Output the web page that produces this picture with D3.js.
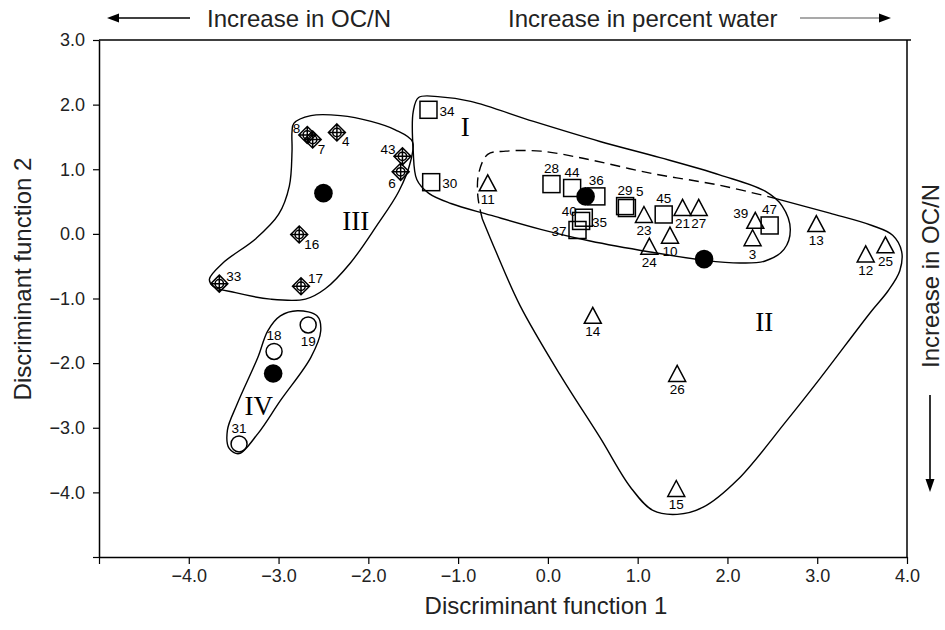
<!DOCTYPE html>
<html>
<head>
<meta charset="utf-8">
<script src="https://cdn.jsdelivr.net/npm/d3@7"></script>
<style>
  body { margin: 0; background: #fff; }
  svg { display: block; font-family: "Liberation Sans", Arial, sans-serif; }
</style>
</head>
<body>
<svg id="chart" width="945" height="630"></svg>
<script>
// site scores on discriminant functions 1 and 2, by group
const squareIds = [34, 30, 28, 44, 36, 29, 5, 45, 47, 35, 40, 37];
const squareX = [-1.33, -1.30, 0.04, 0.27, 0.54, 0.86, 0.88, 1.29, 2.47, 0.37, 0.40, 0.33];
const squareY = [1.92, 0.80, 0.77, 0.71, 0.58, 0.43, 0.40, 0.30, 0.13, 0.20, 0.25, 0.06];

const triangleIds = [11, 23, 21, 27, 10, 24, 3, 39, 13, 12, 25, 14, 26, 15];
const triangleX = [-0.67, 1.07, 1.50, 1.68, 1.36, 1.13, 2.28, 2.31, 2.99, 3.54, 3.76, 0.50, 1.44, 1.43];
const triangleY = [0.79, 0.30, 0.41, 0.41, -0.02, -0.19, -0.06, 0.21, 0.16, -0.31, -0.17, -1.26, -2.16, -3.94];

const diamondIds = [8, 7, 4, 43, 6, 16, 17, 33];
const diamondX = [-2.68, -2.62, -2.35, -1.62, -1.64, -2.77, -2.75, -3.66];
const diamondY = [1.53, 1.46, 1.57, 1.20, 0.96, -0.01, -0.81, -0.77];

const circleIds = [18, 19, 31];
const circleX = [-3.05, -2.67, -3.44];
const circleY = [-1.82, -1.41, -3.25];

// group centroids I..IV
const groupNames = ['I', 'II', 'III', 'IV'];
const centroidX = [0.42, 1.74, -2.50, -3.06];
const centroidY = [0.58, -0.39, 0.63, -2.16];
const groupLabelX = [-0.92, 2.41, -2.14, -3.22];
const groupLabelY = [1.66, -1.35, 0.21, -2.66];

// hand drawn group outlines (data units)
const hullI = [[-1.44, 2.11], [-1.20, 2.12], [-0.86, 2.05], [-0.16, 1.74], [0.58, 1.43], [1.25, 1.18],
  [1.92, 0.91], [2.42, 0.66], [2.61, 0.43], [2.70, 0.07], [2.63, -0.24], [2.42, -0.42], [2.14, -0.45],
  [1.75, -0.41], [1.14, -0.28], [0.47, -0.11], [-0.08, 0.07], [-0.64, 0.29], [-1.08, 0.47],
  [-1.33, 0.63], [-1.46, 0.84], [-1.50, 1.28], [-1.50, 1.89]];
const hullIIsolid = [[2.53, 0.55], [3.14, 0.32], [3.61, 0.13], [3.84, -0.02], [3.94, -0.27], [3.92, -0.57],
  [3.79, -0.88], [3.59, -1.22], [3.03, -2.24], [2.66, -2.89], [2.11, -3.81], [1.73, -4.23], [1.44, -4.34],
  [1.17, -4.28], [0.92, -3.92], [0.58, -3.15], [0.14, -2.19], [-0.31, -1.11], [-0.58, -0.27], [-0.73, 0.23]];
const hullIIdashed = [[-0.73, 0.23], [-0.78, 0.58], [-0.77, 0.94], [-0.67, 1.23], [-0.47, 1.28],
  [-0.08, 1.28], [0.39, 1.17], [1.14, 0.94], [1.92, 0.75], [2.53, 0.55]];
const hullIII = [[-2.83, 1.71], [-2.64, 1.83], [-2.31, 1.83], [-1.97, 1.74], [-1.70, 1.61], [-1.51, 1.43],
  [-1.53, 1.12], [-1.66, 0.66], [-1.91, 0.12], [-2.20, -0.45], [-2.48, -0.85], [-2.70, -1.01],
  [-3.09, -1.01], [-3.48, -0.91], [-3.73, -0.81], [-3.77, -0.70], [-3.62, -0.45], [-3.25, -0.07],
  [-3.00, 0.30], [-2.88, 0.74], [-2.85, 1.28], [-2.85, 1.58]];
const hullIV = [[-2.79, -1.19], [-2.57, -1.27], [-2.53, -1.50], [-2.64, -1.91], [-2.98, -2.58],
  [-3.23, -3.09], [-3.44, -3.40], [-3.55, -3.32], [-3.57, -3.04], [-3.46, -2.63], [-3.23, -1.91],
  [-3.12, -1.50], [-2.98, -1.27]];

const xTicks = [-5, -4, -3, -2, -1, 0, 1, 2, 3, 4];
const yTicks = [-5, -4, -3, -2, -1, 0, 1, 2, 3];

// where each site number sits around its symbol
const labelSpot = {
  34: 'r', 30: 'r', 35: 'r', 37: 'l', 40: 'tl', 5: 'tR',
  39: 'tl', 8: 'tl', 43: 'tl', 7: 'br', 4: 'br', 16: 'br', 6: 'bl', 17: 'tr', 33: 'tr',
  28: 't', 44: 't', 36: 't', 29: 't', 45: 't', 47: 't', 18: 't', 31: 't'
};
const spot = {
  b: [0, 21, 'middle'], t: [0, -11, 'middle'], r: [11, 6, 'start'], l: [-11, 6, 'end'],
  tl: [-7, -2, 'end'], tr: [7, -3, 'start'], br: [5, 14, 'start'], bl: [-5, 16, 'end'],
  tR: [9, -12, 'start']
};

const svg = d3.select('#chart');
const x = d3.scaleLinear().domain([-5, 4]).range([99, 907]);
const y = d3.scaleLinear().domain([-5, 3]).range([557, 40]);

// frame top and right
svg.append('line').attr('x1', x(-5)).attr('x2', x(4) + 4).attr('y1', y(3)).attr('y2', y(3))
  .attr('stroke', '#000').attr('stroke-width', 1.5);
svg.append('line').attr('x1', x(4)).attr('x2', x(4)).attr('y1', y(3)).attr('y2', y(-5))
  .attr('stroke', '#000').attr('stroke-width', 1.5);

let fmt = d3.format('.1f');
let xAxis = svg.append('g')
  .attr('transform', `translate(0,${y(-5)})`)
  .call(d3.axisBottom(x).tickValues(xTicks).tickFormat((d) => (d === -5 ? '' : fmt(d)))
    .tickSize(7).tickPadding(5).tickSizeOuter(0));
let yAxis = svg.append('g')
  .attr('transform', `translate(${x(-5)},0)`)
  .call(d3.axisLeft(y).tickValues(yTicks).tickFormat((d) => (d === -5 ? '' : fmt(d)))
    .tickSize(6).tickPadding(8).tickSizeOuter(0));

[xAxis, yAxis].forEach((g) => {
  g.attr('font-family', null).attr('font-size', 18);
  g.select('.domain').attr('stroke-width', 1.5);
  g.selectAll('.tick line').attr('stroke-width', 1.2);
  g.selectAll('.tick text').attr('fill', '#222');
});

svg.append('text').attr('x', 546).attr('y', 614).attr('text-anchor', 'middle')
  .attr('font-size', 24).attr('fill', '#222').text('Discriminant function 1');
svg.append('text').attr('transform', 'translate(31,279) rotate(-90)').attr('text-anchor', 'middle')
  .attr('font-size', 24).attr('fill', '#222').text('Discriminant function 2');

// direction annotations
const note = svg.append('g').attr('fill', '#222').attr('font-size', 24);
note.append('text').attr('x', 207).attr('y', 27).text('Increase in OC/N');
note.append('text').attr('x', 508).attr('y', 27).text('Increase in percent water');
note.append('text').attr('transform', 'translate(939,276) rotate(-90)').attr('text-anchor', 'middle')
  .text('Increase in OC/N');

svg.append('line').attr('x1', 116).attr('x2', 190).attr('y1', 18).attr('y2', 18)
  .attr('stroke', '#000').attr('stroke-width', 1.6);
svg.append('path').attr('d', 'M107,18L119,13.5L119,22.5Z').attr('fill', '#000');
svg.append('line').attr('x1', 800).attr('x2', 882).attr('y1', 18).attr('y2', 18)
  .attr('stroke', '#555').attr('stroke-width', 1.1);
svg.append('path').attr('d', 'M891,18L879,13.5L879,22.5Z').attr('fill', '#000');
svg.append('line').attr('x1', 930).attr('x2', 930).attr('y1', 395).attr('y2', 482)
  .attr('stroke', '#000').attr('stroke-width', 1.6);
svg.append('path').attr('d', 'M930,492L925.5,479L934.5,479Z').attr('fill', '#000');

// outlines
const closed = d3.line().x((d) => x(d[0])).y((d) => y(d[1])).curve(d3.curveCatmullRomClosed.alpha(0.5));
const open = d3.line().x((d) => x(d[0])).y((d) => y(d[1])).curve(d3.curveCatmullRom.alpha(0.5));
const hulls = svg.append('g').attr('fill', 'none').attr('stroke', '#000').attr('stroke-width', 1.4);
[hullI, hullIII, hullIV].forEach((h) => hulls.append('path').attr('d', closed(h)));
hulls.append('path').attr('d', open(hullIIsolid));
hulls.append('path').attr('d', open(hullIIdashed)).attr('stroke-dasharray', '10,6');

// group numerals
svg.append('g').attr('font-family', '"Liberation Serif", "Times New Roman", serif').attr('font-size', 27)
  .attr('text-anchor', 'middle')
  .selectAll('text').data(groupNames).join('text')
  .attr('x', (d, i) => x(groupLabelX[i])).attr('y', (d, i) => y(groupLabelY[i]))
  .attr('dy', '0.35em').text((d) => d);

// symbols
const marks = svg.append('g').attr('fill', 'none').attr('stroke', '#000').attr('stroke-width', 1.5);
const toRows = (ids, xs, ys) => ids.map((id, i) => ({ id, x: xs[i], y: ys[i] }));
const squares = toRows(squareIds, squareX, squareY);
const triangles = toRows(triangleIds, triangleX, triangleY);
const diamonds = toRows(diamondIds, diamondX, diamondY);
const circles = toRows(circleIds, circleX, circleY);

marks.selectAll('.sq').data(squares).join('rect').attr('class', 'sq')
  .attr('x', (d) => x(d.x) - 8.5).attr('y', (d) => y(d.y) - 8.5).attr('width', 17).attr('height', 17);
marks.selectAll('.tri').data(triangles).join('path').attr('class', 'tri')
  .attr('d', (d) => `M${x(d.x)},${y(d.y) - 8}l8.5,16h-17Z`);
let dia = marks.selectAll('.dia').data(diamonds).join('g').attr('class', 'dia')
  .attr('transform', (d) => `translate(${x(d.x)},${y(d.y)})`);
dia.append('path').attr('d', 'M0,-8.5L8.5,0L0,8.5L-8.5,0ZM0,-8.5V8.5M-8.5,0H8.5');
dia.append('circle').attr('r', 4.2);
marks.selectAll('.ci').data(circles).join('circle').attr('class', 'ci')
  .attr('cx', (d) => x(d.x)).attr('cy', (d) => y(d.y)).attr('r', 8);

svg.append('g').selectAll('circle').data(centroidX).join('circle')
  .attr('cx', (d) => x(d)).attr('cy', (d, i) => y(centroidY[i])).attr('r', 9.3).attr('fill', '#000');

// site numbers
const allSites = [...squares, ...triangles, ...diamonds, ...circles];
svg.append('g').attr('font-size', 13.5).attr('fill', '#000')
  .selectAll('text').data(allSites).join('text')
  .attr('x', (d) => x(d.x) + spot[labelSpot[d.id] || 'b'][0])
  .attr('y', (d) => y(d.y) + spot[labelSpot[d.id] || 'b'][1])
  .attr('text-anchor', (d) => spot[labelSpot[d.id] || 'b'][2])
  .text((d) => d.id);
</script>
</body>
</html>
